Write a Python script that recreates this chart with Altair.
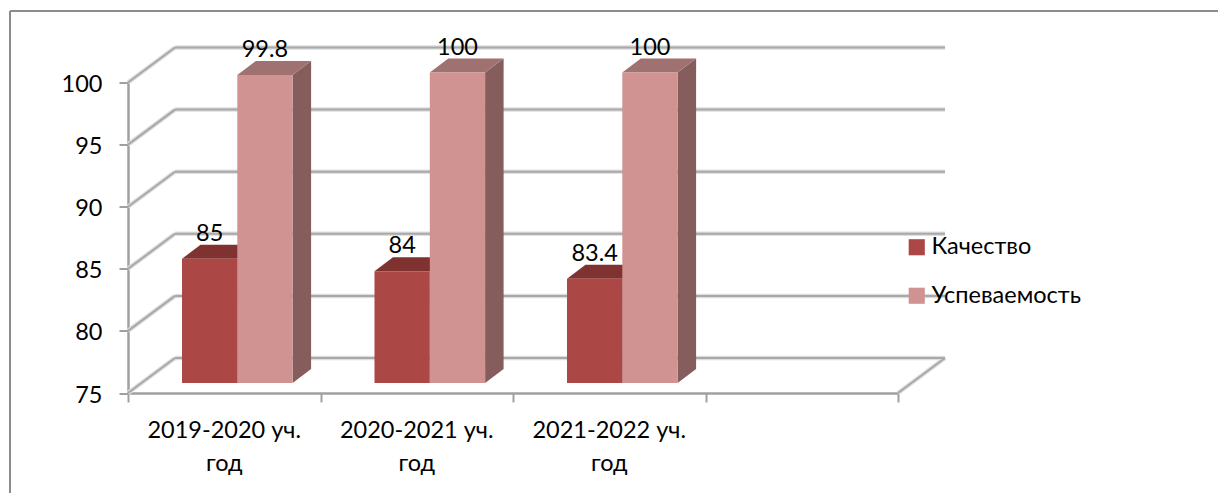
import altair as alt
import pandas as pd

# --- chart values -----------------------------------------------------------
categories = ["2019-2020 уч.\nгод", "2020-2021 уч.\nгод", "2021-2022 уч.\nгод"]
series_names = ["Качество", "Успеваемость"]
quality = [85, 84, 83.4]
progress = [99.8, 100, 100]
label_text_quality = ["85", "84", "83.4"]
label_text_progress = ["99.8", "100", "100"]
y_ticks = [75, 80, 85, 90, 95, 100]
x_ticks = [0, 1, 2, 3, 4]

# --- styling ----------------------------------------------------------------
FONT = "Lato"
FS = 23.5
W, H = 770, 310.5
PX_X = W / 4
PX_Y = H / 25
WALL_X, WALL_Y = 47 / PX_X, 35 / PX_Y       # depth of the 3-D box
DEPTH_X, DEPTH_Y = 18.5 / PX_X, 14 / PX_Y   # depth of a bar
BAR_BASE = 75 + 10 / PX_Y                   # bars stand inside the floor
GROUP_START = 54 / PX_X
BAR_W = 55.3 / PX_X
COLORS = {
    "Качество": dict(front="#AB4744", top="#7F3230", side="#7A3331"),
    "Успеваемость": dict(front="#D09392", top="#A07171", side="#855D5C"),
}
GRID = "#A8A8A8"
GRID_SOFT = "#DEDEDE"

# --- geometry tables, derived from the values -------------------------------
X = alt.X("x:Q", scale=alt.Scale(domain=[0, 4], nice=False, zero=False), title=None,
          axis=alt.Axis(values=x_ticks, labels=False, grid=False, tickSize=9, tickWidth=2,
                        tickColor="#A0A0A0", domainColor="#A0A0A0", domainWidth=2.5, title=None))
Y = alt.Y("y:Q", stack=False, scale=alt.Scale(domain=[75, 100], nice=False, zero=False), title=None,
          axis=alt.Axis(values=y_ticks, grid=False, tickSize=9, tickWidth=2, tickColor="#A0A0A0",
                        domainColor="#A0A0A0", domainWidth=2.5, labelPadding=17, labelColor="black",
                        labelFont=FONT, labelFontSize=FS, labelOffset=2, format="d", title=None))

segs = []
for v in y_ticks:
    segs += [dict(seg=f"b{v}", x=WALL_X, y=v + WALL_Y), dict(seg=f"b{v}", x=4 + WALL_X, y=v + WALL_Y)]
    segs += [dict(seg=f"l{v}", x=0, y=v), dict(seg=f"l{v}", x=WALL_X, y=v + WALL_Y)]
segs += [dict(seg="r", x=4, y=75), dict(seg="r", x=4 + WALL_X, y=75 + WALL_Y)]
seg_df = pd.DataFrame(segs)

wall_soft = alt.Chart(seg_df).mark_line(color=GRID_SOFT, strokeWidth=4.5).encode(x=X, y=Y, detail="seg:N")
wall_core = alt.Chart(seg_df).mark_line(color=GRID, strokeWidth=2).encode(x=X, y=Y, detail="seg:N")

layers = [wall_soft, wall_core]
label_rows = []
for s, (name, vals, texts) in enumerate(zip(series_names, [quality, progress],
                                            [label_text_quality, label_text_progress])):
    side, top, front = [], [], []
    for i, v in enumerate(vals):
        x0 = i + GROUP_START + s * BAR_W
        x1 = x0 + BAR_W
        t = BAR_BASE + (v - 75)
        side += [dict(g=i, x=x1, y=BAR_BASE, y2=t), dict(g=i, x=x1 + DEPTH_X, y=BAR_BASE + DEPTH_Y, y2=t + DEPTH_Y)]
        top += [dict(g=i, x=x0, y=t, y2=t), dict(g=i, x=x0 + DEPTH_X, y=t, y2=t + DEPTH_Y),
                dict(g=i, x=x1, y=t, y2=t + DEPTH_Y), dict(g=i, x=x1 + DEPTH_X, y=t + DEPTH_Y, y2=t + DEPTH_Y)]
        front.append(dict(series=name, x=x0, x2=x1, y=BAR_BASE, y2=t))
        label_rows.append(dict(x=(x0 + x1) / 2, y=t, text=texts[i]))
    c = COLORS[name]
    layers.append(alt.Chart(pd.DataFrame(side)).mark_area(color=c["side"], orient="vertical")
                  .encode(x=X, y=Y, y2="y2:Q", detail="g:N"))
    layers.append(alt.Chart(pd.DataFrame(top)).mark_area(color=c["top"], orient="vertical")
                  .encode(x=X, y=Y, y2="y2:Q", detail="g:N"))
    layers.append(alt.Chart(pd.DataFrame(front)).mark_rect().encode(
        x=X, x2="x2:Q", y=Y, y2="y2:Q",
        color=alt.Color("series:N",
                        scale=alt.Scale(domain=series_names,
                                        range=[COLORS[n]["front"] for n in series_names]),
                        legend=alt.Legend(title=None, orient="none", legendX=777, legendY=153,
                                          symbolType="square", symbolSize=260, symbolStrokeWidth=0,
                                          labelFont=FONT, labelFontSize=FS, labelColor="black",
                                          labelOffset=3, rowPadding=23.5, padding=0,
                                          labelLimit=300))))

labels = alt.Chart(pd.DataFrame(label_rows)).mark_text(
    font=FONT, fontSize=FS, color="black", baseline="middle", align="center", dy=-25
).encode(x=X, y=Y, text="text:N")

cat_df = pd.DataFrame({"x": [i + 0.5 for i in range(3)], "y": [75] * 3, "text": categories})
cats = alt.Chart(cat_df).mark_text(
    font=FONT, fontSize=FS, color="black", baseline="middle", align="center",
    lineBreak="\n", lineHeight=33, dy=37.5
).encode(x=X, y=Y, text="text:N")

frame_top = alt.Chart(pd.DataFrame({"k": [0]})).mark_rule(color="#8C8C8C", strokeWidth=2).encode(
    x=alt.value(-118), x2=alt.value(1100), y=alt.value(-71.5))
frame_left = alt.Chart(pd.DataFrame({"k": [0]})).mark_rule(color="#8C8C8C", strokeWidth=2).encode(
    x=alt.value(-118), y=alt.value(-71.5), y2=alt.value(420))

chart = alt.layer(frame_top, frame_left, *layers, labels, cats).properties(
    width=W, height=H,
    autosize=alt.AutoSizeParams(type="none"),
    padding={"left": 120, "top": 74.5, "right": 320, "bottom": 100},
).configure_view(stroke=None)

chart.save("out.html", embed_options={"renderer": "svg", "actions": False})
